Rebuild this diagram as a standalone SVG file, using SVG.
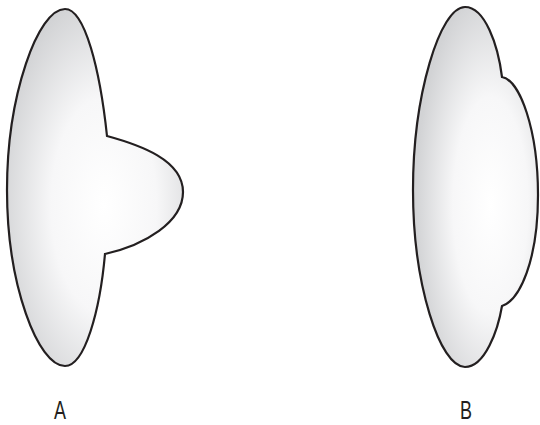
<svg xmlns="http://www.w3.org/2000/svg" width="540" height="425" viewBox="0 0 540 425">
<style>
.shape{stroke:#231f20;stroke-width:2.2;stroke-linejoin:miter}
.lbl{font-family:"Liberation Sans",Arial,sans-serif;font-size:25px;fill:#231f20;text-anchor:middle}
</style>
<defs>
<radialGradient id="gA" cx="0.55" cy="0.55" r="0.6">
<stop offset="0" stop-color="#ffffff"/>
<stop offset="0.5" stop-color="#f7f7f8"/>
<stop offset="1" stop-color="#d2d3d5"/>
</radialGradient>
<radialGradient id="gB" cx="0.62" cy="0.55" r="0.6">
<stop offset="0" stop-color="#ffffff"/>
<stop offset="0.5" stop-color="#f7f7f8"/>
<stop offset="1" stop-color="#d2d3d5"/>
</radialGradient>
</defs>
<g id="shapeA">
<path class="shape" fill="url(#gA)" d="M65,9 C85,9 100,70 107,136 C140,145 183,160 183,192 C183,222 145,245 105,254 C100,310 85,366 65,366 C38,366 7,285 7,190 C7,95 38,9 65,9 Z"/>
</g>
<g id="shapeB">
<path class="shape" fill="url(#gB)" d="M465,7 C485,7 498,45 502,77 C520,80 538,130 538,195 C538,260 520,300 502,306 C498,330 485,367 465,367 C440,367 413,285 413,190 C413,95 440,7 465,7 Z"/>
</g>
<g id="connectors"></g>
<g id="labelA"><text class="lbl" transform="translate(60,419) scale(0.72,1)">A</text></g>
<g id="labelB"><text class="lbl" transform="translate(466,419) scale(0.72,1)">B</text></g>
</svg>
